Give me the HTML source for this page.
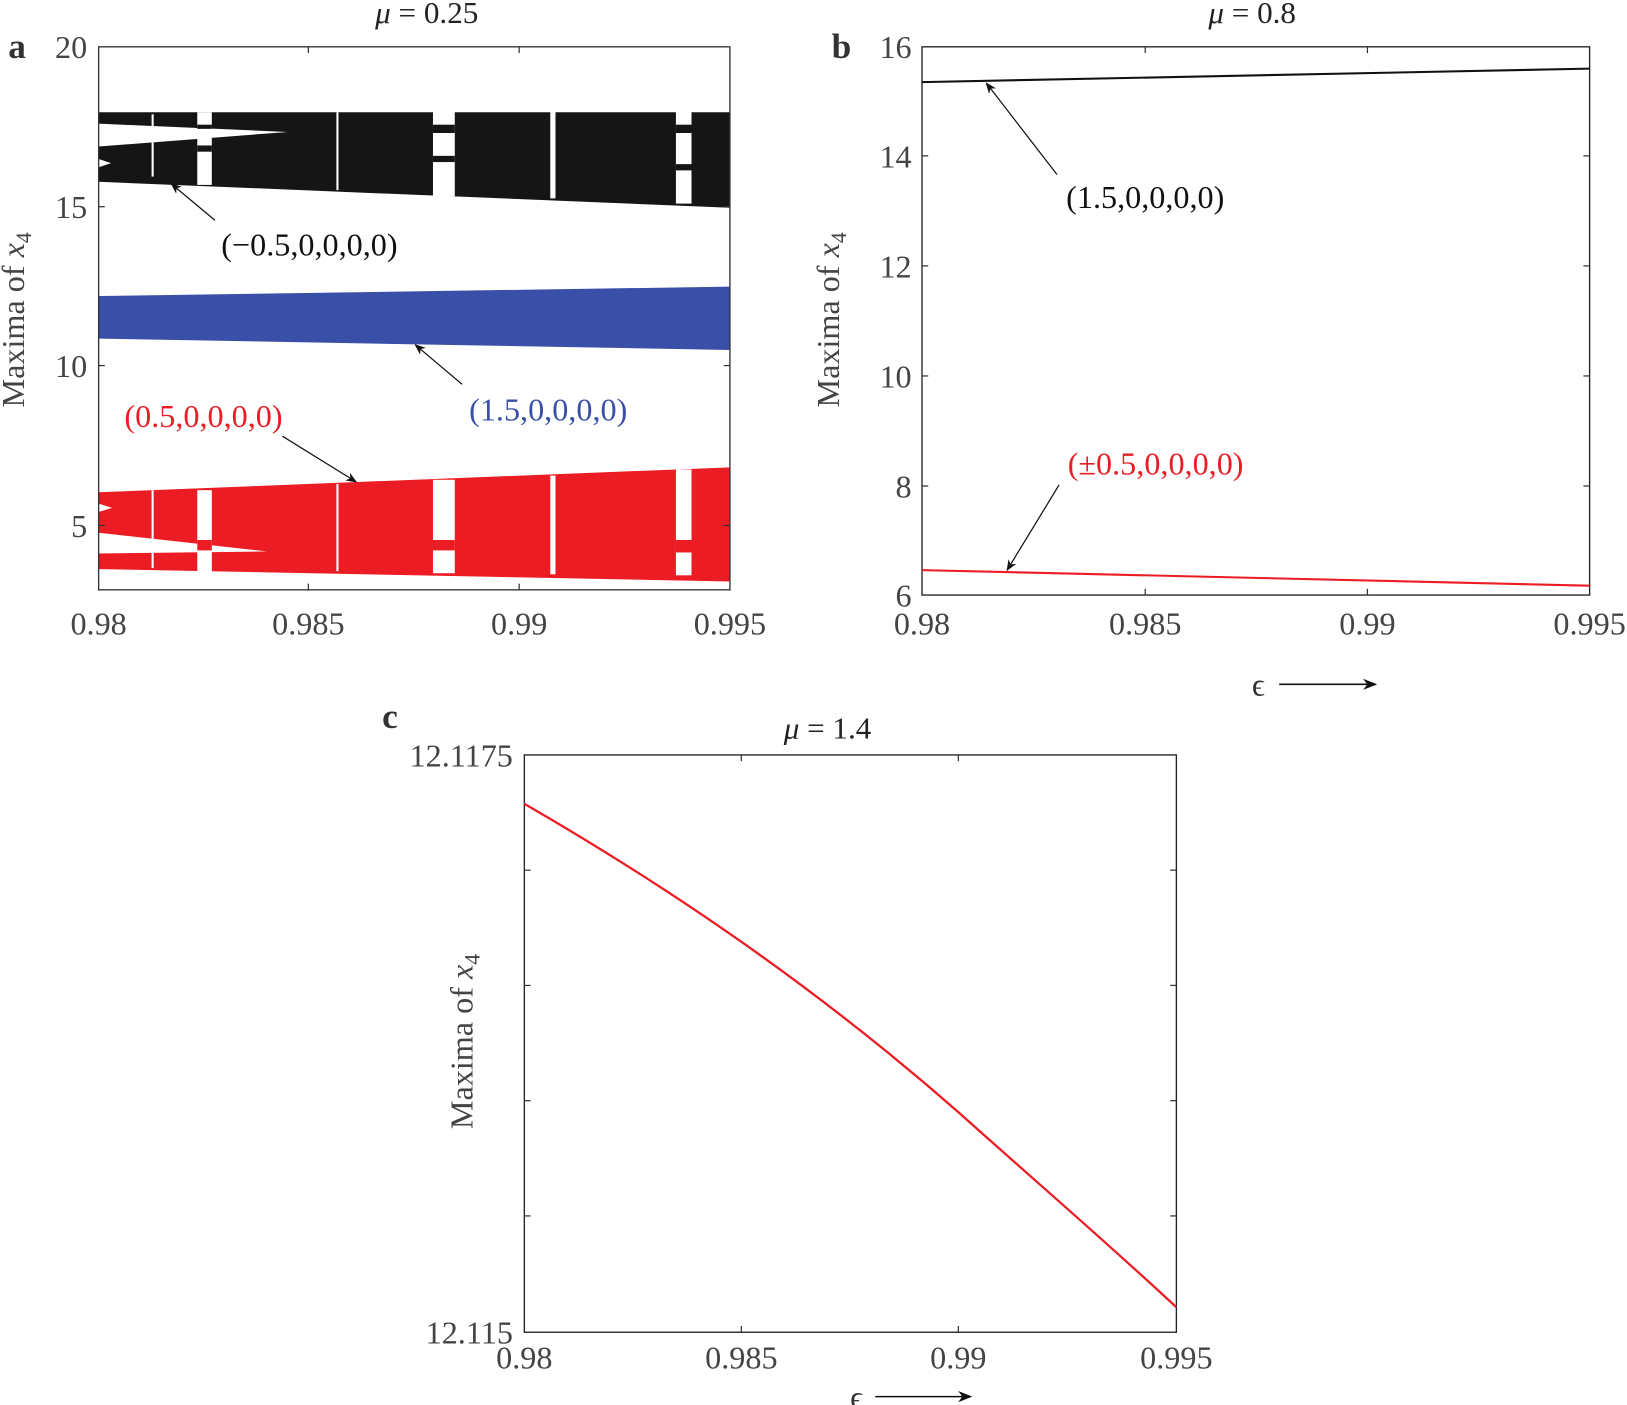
<!DOCTYPE html>
<html><head><meta charset="utf-8"><style>html,body{margin:0;padding:0;background:#fff}svg{display:block}</style></head>
<body>
<svg width="1627" height="1405" viewBox="0 0 1567 1353" xmlns="http://www.w3.org/2000/svg" font-family="Liberation Serif, serif">
<defs>
<marker id="ah" viewBox="0 0 10 10" refX="9" refY="5" markerWidth="9" markerHeight="9" orient="auto"><path d="M0,1 L10,5 L0,9 L3,5 z" fill="#111"/></marker>
</defs>
<!-- Panel a -->
<text x="8" y="56" font-size="34" font-weight="bold" fill="#333">a</text>
<text x="411" y="22" font-size="30" text-anchor="middle" fill="#222"><tspan font-style="italic">μ</tspan> = 0.25</text>
<polygon points="95,108 703,108 703,200 95,175" fill="#151515"/>
<polygon points="95,119 277,127 95,141" fill="#fff"/>
<polygon points="95,153 107,157 95,161" fill="#fff"/>
<polygon points="95,285 703,276 703,337 95,326" fill="#3a4fa8"/>
<polygon points="95,474 703,450 703,560 95,548" fill="#ec1c24"/>
<polygon points="95,513 257,531 95,533" fill="#fff"/>
<polygon points="95,485 108,489 95,493" fill="#fff"/>
<g fill="#fff">
<rect x="190" y="108" width="14" height="70"/><rect x="417" y="107" width="21" height="82"/><rect x="530" y="106" width="5" height="85"/><rect x="651" y="106" width="15" height="90"/>
<rect x="146" y="110" width="2" height="60"/><rect x="324" y="108" width="2" height="75"/>
<rect x="190" y="472" width="14" height="80"/><rect x="417" y="462" width="21" height="90"/><rect x="530" y="458" width="5" height="95"/><rect x="651" y="452" width="15" height="102"/>
<rect x="146" y="472" width="2" height="75"/><rect x="324" y="466" width="2" height="84"/>
</g>
<g fill="#151515"><rect x="190" y="120" width="14" height="4"/><rect x="190" y="140" width="14" height="6"/><rect x="417" y="120" width="21" height="8"/><rect x="417" y="150" width="21" height="6"/><rect x="651" y="120" width="15" height="8"/><rect x="651" y="158" width="15" height="6"/></g>
<g fill="#ec1c24"><rect x="190" y="520" width="14" height="10"/><rect x="417" y="520" width="21" height="10"/><rect x="651" y="520" width="15" height="12"/></g>
<rect x="95" y="45" width="608" height="523" fill="none" stroke="#333" stroke-width="1.3"/>
<g stroke="#333" stroke-width="1.2">
<line x1="297" y1="45" x2="297" y2="51"/><line x1="500" y1="45" x2="500" y2="51"/><line x1="297" y1="568" x2="297" y2="562"/><line x1="500" y1="568" x2="500" y2="562"/>
<line x1="95" y1="199" x2="101" y2="199"/><line x1="95" y1="352" x2="101" y2="352"/><line x1="95" y1="506" x2="101" y2="506"/>
<line x1="703" y1="199" x2="697" y2="199"/><line x1="703" y1="352" x2="697" y2="352"/><line x1="703" y1="506" x2="697" y2="506"/>
</g>
<g font-size="31" fill="#444" text-anchor="end"><text x="84" y="56">20</text><text x="84" y="210">15</text><text x="84" y="363">10</text><text x="84" y="517">5</text></g>
<g font-size="31" fill="#444" text-anchor="middle"><text x="95" y="611">0.98</text><text x="297" y="611">0.985</text><text x="500" y="611">0.99</text><text x="703" y="611">0.995</text></g>
<text transform="translate(23,308) rotate(-90)" font-size="31" fill="#444" text-anchor="middle">Maxima of <tspan font-style="italic">x</tspan><tspan font-size="21" dy="7">4</tspan></text>
<text x="298" y="246" font-size="31" fill="#111" text-anchor="middle">(−0.5,0,0,0,0)</text>
<line x1="207" y1="212" x2="165" y2="177" stroke="#111" stroke-width="1.2" marker-end="url(#ah)"/>
<text x="528" y="405" font-size="31" fill="#3a4fa8" text-anchor="middle">(1.5,0,0,0,0)</text>
<line x1="445" y1="370" x2="400" y2="332" stroke="#111" stroke-width="1.2" marker-end="url(#ah)"/>
<text x="196" y="411" font-size="31" fill="#ec1c24" text-anchor="middle">(0.5,0,0,0,0)</text>
<line x1="272" y1="420" x2="343" y2="464" stroke="#111" stroke-width="1.2" marker-end="url(#ah)"/>

<!-- Panel b -->
<text x="801" y="56" font-size="34" font-weight="bold" fill="#333">b</text>
<text x="1206" y="22" font-size="30" text-anchor="middle" fill="#222"><tspan font-style="italic">μ</tspan> = 0.8</text>
<rect x="888" y="45" width="643" height="528" fill="none" stroke="#222" stroke-width="1.3"/>
<g stroke="#333" stroke-width="1.2">
<line x1="1103" y1="45" x2="1103" y2="51"/><line x1="1317" y1="45" x2="1317" y2="51"/><line x1="1103" y1="573" x2="1103" y2="567"/><line x1="1317" y1="573" x2="1317" y2="567"/>
<line x1="888" y1="150" x2="894" y2="150"/><line x1="888" y1="256" x2="894" y2="256"/><line x1="888" y1="362" x2="894" y2="362"/><line x1="888" y1="468" x2="894" y2="468"/>
<line x1="1531" y1="150" x2="1525" y2="150"/><line x1="1531" y1="256" x2="1525" y2="256"/><line x1="1531" y1="362" x2="1525" y2="362"/><line x1="1531" y1="468" x2="1525" y2="468"/>
</g>
<line x1="888" y1="79" x2="1531" y2="66" stroke="#111" stroke-width="2"/>
<line x1="888" y1="549" x2="1531" y2="564" stroke="#ec1c24" stroke-width="2"/>
<g font-size="31" fill="#444" text-anchor="end"><text x="878" y="56">16</text><text x="878" y="161">14</text><text x="878" y="267">12</text><text x="878" y="373">10</text><text x="878" y="479">8</text><text x="878" y="584">6</text></g>
<g font-size="31" fill="#444" text-anchor="middle"><text x="888" y="611">0.98</text><text x="1103" y="611">0.985</text><text x="1317" y="611">0.99</text><text x="1531" y="611">0.995</text></g>
<text transform="translate(808,308) rotate(-90)" font-size="31" fill="#444" text-anchor="middle">Maxima of <tspan font-style="italic">x</tspan><tspan font-size="21" dy="7">4</tspan></text>
<text x="1103" y="200" font-size="31" fill="#111" text-anchor="middle">(1.5,0,0,0,0)</text>
<line x1="1018" y1="168" x2="950" y2="80" stroke="#111" stroke-width="1.2" marker-end="url(#ah)"/>
<text x="1113" y="457" font-size="31" fill="#ec1c24" text-anchor="middle">(±0.5,0,0,0,0)</text>
<line x1="1020" y1="467" x2="970" y2="549" stroke="#111" stroke-width="1.2" marker-end="url(#ah)"/>
<text x="1212" y="670" font-size="31" fill="#333" text-anchor="middle">ϵ</text>
<line x1="1232" y1="659" x2="1325" y2="659" stroke="#111" stroke-width="1.5" marker-end="url(#ah)"/>

<!-- Panel c -->
<text x="368" y="701" font-size="34" font-weight="bold" fill="#333">c</text>
<text x="797" y="711" font-size="30" text-anchor="middle" fill="#222"><tspan font-style="italic">μ</tspan> = 1.4</text>
<rect x="505" y="727" width="628" height="556" fill="none" stroke="#222" stroke-width="1.3"/>
<g stroke="#333" stroke-width="1.2">
<line x1="714" y1="727" x2="714" y2="733"/><line x1="923" y1="727" x2="923" y2="733"/><line x1="714" y1="1283" x2="714" y2="1277"/><line x1="923" y1="1283" x2="923" y2="1277"/>
<line x1="505" y1="838" x2="511" y2="838"/><line x1="505" y1="949" x2="511" y2="949"/><line x1="505" y1="1060" x2="511" y2="1060"/><line x1="505" y1="1171" x2="511" y2="1171"/>
<line x1="1133" y1="838" x2="1127" y2="838"/><line x1="1133" y1="949" x2="1127" y2="949"/><line x1="1133" y1="1060" x2="1127" y2="1060"/><line x1="1133" y1="1171" x2="1127" y2="1171"/>
</g>
<path d="M505,774 C645,855 785,950 923,1071 C1000,1140 1070,1200 1133,1259" fill="none" stroke="#ec1c24" stroke-width="2.2"/>
<g font-size="31" fill="#444" text-anchor="end"><text x="494" y="738">12.1175</text><text x="494" y="1294">12.115</text></g>
<g font-size="31" fill="#444" text-anchor="middle"><text x="505" y="1318">0.98</text><text x="714" y="1318">0.985</text><text x="923" y="1318">0.99</text><text x="1133" y="1318">0.995</text></g>
<text transform="translate(455,1003) rotate(-90)" font-size="31" fill="#444" text-anchor="middle">Maxima of <tspan font-style="italic">x</tspan><tspan font-size="21" dy="7">4</tspan></text>
<text x="825" y="1356" font-size="31" fill="#333" text-anchor="middle">ϵ</text>
<line x1="843" y1="1345" x2="935" y2="1345" stroke="#111" stroke-width="1.5" marker-end="url(#ah)"/>
</svg>
</body></html>
